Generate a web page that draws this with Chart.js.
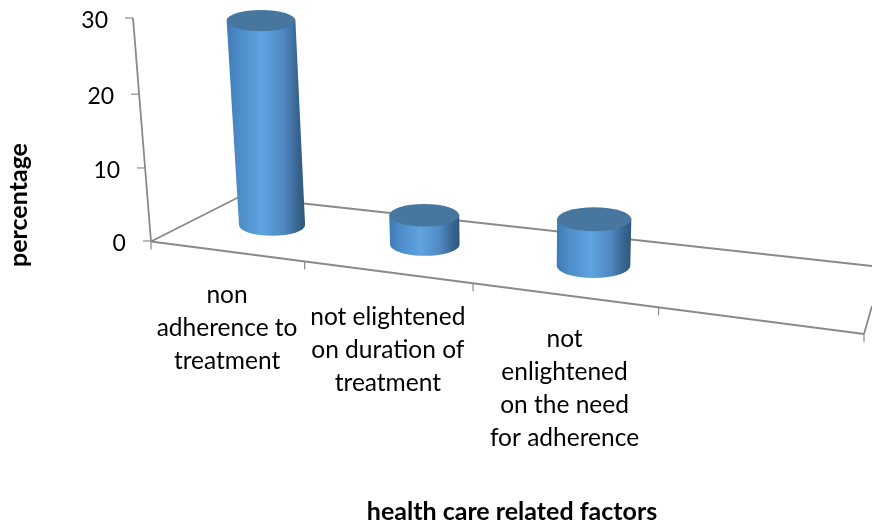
<!DOCTYPE html>
<html>
<head>
<meta charset="utf-8">
<style>
  html, body { margin: 0; padding: 0; background: #ffffff; }
  canvas { display: block; }
</style>
<script src="https://cdn.jsdelivr.net/npm/chart.js@4/dist/chart.umd.min.js"></script>
</head>
<body>
<canvas id="chart" width="872" height="525"></canvas>
<script>
// chart values
const categories = [
    ['non', 'adherence to', 'treatment'],
    ['not elightened', 'on duration of', 'treatment'],
    ['not', 'enlightened', 'on the need', 'for adherence'],
    ['']
];
const percentages = [28, 4, 6.4, null];
const yTicks = [0, 10, 20, 30];
const xTitle = 'health care related factors';
const yTitle = 'percentage';

const lineColor = '#8a8a8a';
const fontFamily = 'Lato, "Open Sans", sans-serif';

// the floor narrows away from the viewer, so category slots grow left to right
function slotX(t) {
    return 151 + 713 * t / (t + 1.214 * (1 - t));
}
function frontY(x) {
    return 241.5 + (x - 151) * 0.1297;
}
function slotScale(t) {
    const d = t + 1.214 * (1 - t);
    return 1 + (1.214 / (d * d) - 0.944) * 0.6;
}

function line(ctx, x1, y1, x2, y2) {
    ctx.beginPath();
    ctx.moveTo(x1, y1);
    ctx.lineTo(x2, y2);
    ctx.stroke();
}

function drawFrame(chart) {
    const ctx = chart.ctx;
    const area = chart.chartArea;
    const y = chart.scales.y;
    ctx.save();
    ctx.strokeStyle = lineColor;
    ctx.lineWidth = 1.8;

    // floor
    line(ctx, 151, 241.5, 240, 196.5);
    line(ctx, 240, 196.5, 872, 266);
    line(ctx, 151, 241.5, 864, 334);
    line(ctx, 864, 334, 872, 306);

    // value axis leans back towards the top
    line(ctx, 151, 241.5, 133, 18);
    ctx.lineWidth = 1.2;
    ctx.fillStyle = '#000000';
    ctx.font = '23px ' + fontFamily;
    ctx.textAlign = 'right';
    ctx.textBaseline = 'middle';
    yTicks.forEach(function(v) {
        const tickY = y.getPixelForValue(v) - 4 * Math.pow(v / y.max, 4);
        const tickX = 151 - 18 * (241.5 - tickY) / 223.5;
        line(ctx, tickX - 8, tickY, tickX, tickY);
        ctx.fillText(String(v), tickX - 25, tickY + 2.5);
    });

    // category ticks and labels
    const n = categories.length;
    for (let i = 0; i <= n; i++) {
        const tx = slotX(i / n);
        line(ctx, tx, frontY(tx), tx, frontY(tx) + 8);
    }
    ctx.font = '24.5px ' + fontFamily;
    ctx.textAlign = 'center';
    chart.scales.x.getLabels().forEach(function(lines, i) {
        const t = (chart.scales.x.getPixelForValue(i) - area.left) / area.width;
        lines.forEach(function(text, j) {
            ctx.fillText(text, slotX(t) + 1, 295 + i * 22 + j * 33);
        });
    });

    // axis titles
    ctx.font = 'bold 25px ' + fontFamily;
    ctx.fillText(xTitle, 512, 512);
    ctx.translate(19, 205);
    ctx.rotate(-Math.PI / 2);
    ctx.fillText(yTitle, 0, 0);
    ctx.restore();
}

function drawCylinder(ctx, bar, area) {
    const t = (bar.x - area.left) / area.width;
    const s = slotScale(t);
    const fx = slotX(t);
    // stand in the middle of the floor depth
    const baseX = fx + 50 - 32 * t;
    const baseY = frontY(fx) - 25.5 - 5.6 * t;
    const h = bar.base - bar.y;
    const lean = 0.08 - 0.000215 * (baseX - 151);
    const topX = baseX - lean * h;
    const topY = baseY - h;
    const rx = bar.width / 2 * s;
    const rxTop = rx * (1 + h * 0.0002);
    const ry = rx * 0.325;

    const left = Math.min(baseX - rx, topX - rxTop);
    const right = Math.max(baseX + rx, topX + rxTop);
    const grad = ctx.createLinearGradient(left, 0, right, 0);
    grad.addColorStop(0, '#3f7bb3');
    grad.addColorStop(0.12, '#4a89c5');
    grad.addColorStop(0.45, '#5fa3e0');
    grad.addColorStop(0.72, '#5089c3');
    grad.addColorStop(0.92, '#36628c');
    grad.addColorStop(1, '#2f5779');

    ctx.beginPath();
    ctx.moveTo(topX - rxTop, topY);
    ctx.lineTo(baseX - rx, baseY);
    ctx.ellipse(baseX, baseY, rx, ry, 0, Math.PI, 0, true);
    ctx.lineTo(topX + rxTop, topY);
    ctx.closePath();
    ctx.fillStyle = grad;
    ctx.fill();

    ctx.beginPath();
    ctx.ellipse(topX, topY, rxTop, ry, 0, 0, Math.PI * 2);
    ctx.fillStyle = '#47779f';
    ctx.fill();
}

// the bars themselves are transparent, this redraws each one as a cylinder
const cylinderPlugin = {
    id: 'cylinders',
    afterDatasetsDraw: function(chart) {
        drawFrame(chart);
        chart.getDatasetMeta(0).data.forEach(function(bar, i) {
            if (percentages[i] !== null) {
                drawCylinder(chart.ctx, bar, chart.chartArea);
            }
        });
    }
};

new Chart(document.getElementById('chart').getContext('2d'), {
    type: 'bar',
    data: {
        labels: categories,
        datasets: [{
            label: 'percentage',
            data: percentages,
            backgroundColor: 'rgba(0, 0, 0, 0)',
            categoryPercentage: 1,
            barPercentage: 0.39
        }]
    },
    options: {
        responsive: false,
        animation: false,
        layout: { padding: { left: 151, right: 8, top: 22, bottom: 284 } },
        scales: {
            x: { display: false },
            y: { display: false, min: 0, max: 30 }
        },
        plugins: {
            legend: { display: false },
            tooltip: { enabled: false }
        }
    },
    plugins: [cylinderPlugin]
});
</script>
</body>
</html>
